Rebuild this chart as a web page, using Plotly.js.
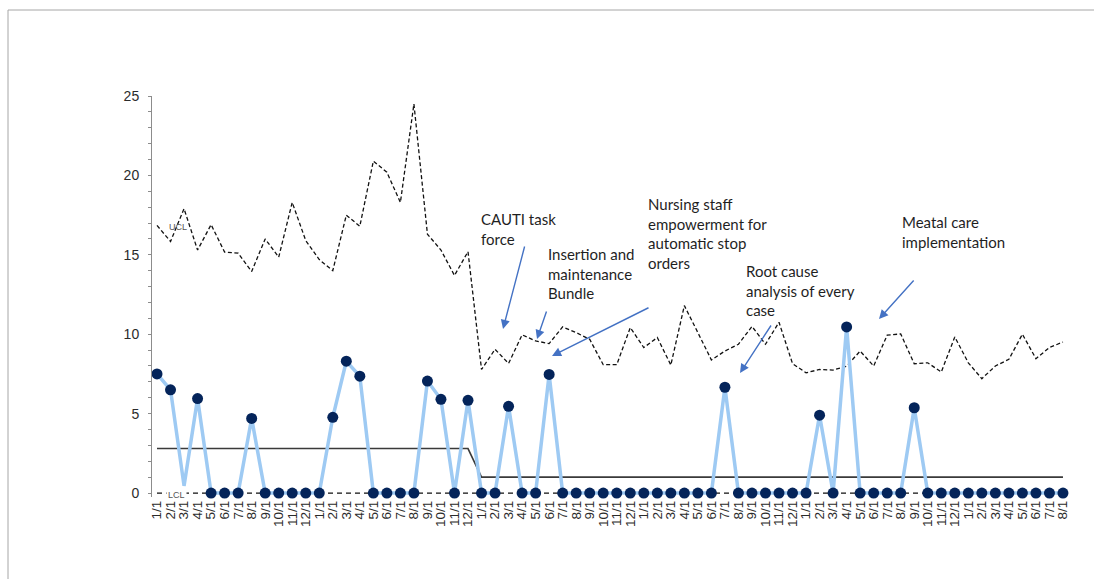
<!DOCTYPE html>
<html>
<head>
<meta charset="utf-8">
<script src="https://cdn.plot.ly/plotly-3.0.1.min.js"></script>
<style>html,body{margin:0;padding:0;background:#fff;}#chart{width:1094px;height:579px;}</style>
</head>
<body>
<div id="chart"></div>
<script>
// ---- data ----
const monthLabels = [
  "1/1","2/1","3/1","4/1","5/1","6/1","7/1","8/1","9/1","10/1","11/1","12/1",
  "1/1","2/1","3/1","4/1","5/1","6/1","7/1","8/1","9/1","10/1","11/1","12/1",
  "1/1","2/1","3/1","4/1","5/1","6/1","7/1","8/1","9/1","10/1","11/1","12/1",
  "1/1","2/1","3/1","4/1","5/1","6/1","7/1","8/1","9/1","10/1","11/1","12/1",
  "1/1","2/1","3/1","4/1","5/1","6/1","7/1","8/1","9/1","10/1","11/1","12/1",
  "1/1","2/1","3/1","4/1","5/1","6/1","7/1","8/1"
];
const rateValues = [
  7.5, 6.5, 0.45, 5.95, 0, 0, 0, 4.7, 0, 0, 0, 0,
  0, 4.77, 8.3, 7.36, 0, 0, 0, 0, 7.05, 5.9, 0, 5.84,
  0, 0, 5.46, 0, 0, 7.47, 0, 0, 0, 0, 0, 0,
  0, 0, 0, 0, 0, 0, 6.66, 0, 0, 0, 0, 0,
  0, 4.9, 0, 10.46, 0, 0, 0, 0, 5.37, 0, 0, 0,
  0, 0, 0, 0, 0, 0, 0, 0
];
const uclValues = [
  16.85, 15.84, 17.9, 15.3, 16.9, 15.17, 15.1, 13.95, 16.0, 14.85, 18.3, 15.9,
  14.7, 14.0, 17.5, 16.8, 20.9, 20.2, 18.3, 24.5, 16.3, 15.3, 13.7, 15.2,
  7.78, 9.05, 8.16, 9.96, 9.58, 9.41, 10.46, 10.1, 9.68, 8.08, 8.08, 10.42,
  9.16, 9.79, 8.06, 11.8, 10.1, 8.38, 8.94, 9.37, 10.49, 9.37, 10.75, 8.15,
  7.57, 7.78, 7.74, 7.99, 8.94, 8.0, 9.94, 10.02, 8.14, 8.2, 7.62, 9.83,
  8.2, 7.2, 8.0, 8.42, 10.0, 8.46, 9.16, 9.51
];
const centerValues = [
  2.8, 2.8, 2.8, 2.8, 2.8, 2.8, 2.8, 2.8, 2.8, 2.8, 2.8, 2.8,
  2.8, 2.8, 2.8, 2.8, 2.8, 2.8, 2.8, 2.8, 2.8, 2.8, 2.8, 2.8,
  1, 1, 1, 1, 1, 1, 1, 1, 1, 1, 1, 1,
  1, 1, 1, 1, 1, 1, 1, 1, 1, 1, 1, 1,
  1, 1, 1, 1, 1, 1, 1, 1, 1, 1, 1, 1,
  1, 1, 1, 1, 1, 1, 1, 1
];
const lclValues = [
  0,0,0,0,0,0,0,0,0,0,0,0,
  0,0,0,0,0,0,0,0,0,0,0,0,
  0,0,0,0,0,0,0,0,0,0,0,0,
  0,0,0,0,0,0,0,0,0,0,0,0,
  0,0,0,0,0,0,0,0,0,0,0,0,
  0,0,0,0,0,0,0,0
];
const interventions = [
  "CAUTI task<br>force",
  "Insertion and<br>maintenance<br>Bundle",
  "Nursing staff<br>empowerment for<br>automatic stop<br>orders",
  "Root cause<br>analysis of every<br>case",
  "Meatal care<br>implementation"
];

// ---- layout geometry ----
const W = 1094, H = 579;
const M = {l: 152, r: 24, t: 96, b: 82};
const xr = [-0.37, 67.52], yr = [-0.25, 25];
const pw = W - M.l - M.r, ph = H - M.t - M.b;
const px2x = px => xr[0] + (px - M.l) / pw * (xr[1] - xr[0]);
const py2y = py => yr[1] - (py - M.t) / ph * (yr[1] - yr[0]);
const px2p = px => (px - M.l) / pw;
const py2p = py => (H - M.b - py) / ph;

const idx = monthLabels.map((_, i) => i);

const traces = [
  {x: idx, y: uclValues, type: 'scatter', mode: 'lines', hoverinfo: 'skip',
   line: {color: '#111', width: 1.3, dash: '4px,2.5px'}, cliponaxis: false},
  {x: idx, y: lclValues, type: 'scatter', mode: 'lines', hoverinfo: 'skip',
   line: {color: '#111', width: 1.3, dash: '5px,4px'}, cliponaxis: false},
  {x: idx, y: centerValues, type: 'scatter', mode: 'lines', hoverinfo: 'skip',
   line: {color: '#3a3a3a', width: 1.6}, cliponaxis: false},
  {x: idx, y: rateValues, type: 'scatter', mode: 'lines+markers', cliponaxis: false,
   line: {color: '#9ECAF3', width: 3.5},
   marker: {color: '#04245A', opacity: 1, line: {width: 0},
            size: rateValues.map((v, i) => i === 2 ? 0 : 11)}}
];

const textFont = {family: 'Lato, "Open Sans", sans-serif', size: 15, color: '#1f1f1f'};
const texts = [
  {px: 480, py: 219.3},
  {px: 547, py: 254.3},
  {px: 647, py: 204.3},
  {px: 745, py: 271},
  {px: 901, py: 222.3}
];
const annotations = interventions.map((t, i) => ({
  text: t, xref: 'x', yref: 'y', x: px2x(texts[i].px), y: py2y(texts[i].py - 10.5),
  xanchor: 'left', yanchor: 'top', align: 'left', showarrow: false,
  font: textFont, borderpad: 0
}));

const arrows = [
  [525, 245, 503, 329],
  [547, 310, 537, 339],
  [650, 307, 552, 356],
  [772, 324, 740, 373],
  [915, 279, 879, 319]
];
arrows.forEach(a => annotations.push({
  text: '', xref: 'x', yref: 'y', x: px2x(a[2]), y: py2y(a[3]),
  ax: a[0] - a[2], ay: a[1] - a[3], showarrow: true,
  arrowhead: 2, arrowsize: 1.3, arrowwidth: 1.4, arrowcolor: '#4472C4', standoff: 0
}));

annotations.push({
  text: 'UCL', xref: 'x', yref: 'y', x: px2x(178), y: py2y(227), showarrow: false,
  font: {family: '"Liberation Sans", Arial, sans-serif', size: 9, color: '#555'}
});
annotations.push({
  text: 'LCL', xref: 'x', yref: 'y', x: px2x(176), y: py2y(494.5), showarrow: false,
  bgcolor: '#fff', borderpad: 1,
  font: {family: '"Liberation Sans", Arial, sans-serif', size: 9, color: '#555'}
});

const layout = {
  width: W, height: H,
  margin: M,
  paper_bgcolor: '#fff', plot_bgcolor: '#fff',
  showlegend: false,
  xaxis: {
    range: xr, showgrid: false, zeroline: false, showline: false, ticks: '',
    tickmode: 'array', tickvals: idx, ticktext: monthLabels, tickangle: -90,
    tickfont: {family: '"Liberation Sans", Arial, sans-serif', size: 13.5, color: '#2b2b2b'}
  },
  yaxis: {
    range: yr, showgrid: false, zeroline: false, showline: true, linecolor: '#8c8c8c', linewidth: 1,
    tickmode: 'linear', tick0: 0, dtick: 5, ticks: 'outside', ticklen: 3, tickcolor: '#8c8c8c',
    minor: {dtick: 1, tick0: 0, ticks: 'outside', ticklen: 3, tickcolor: '#8c8c8c'},
    ticklabelstandoff: 6,
    tickfont: {family: '"Liberation Sans", Arial, sans-serif', size: 14, color: '#2b2b2b'}
  },
  annotations: annotations,
  shapes: [
    {type: 'line', xref: 'paper', yref: 'paper', x0: px2p(8), x1: px2p(1100), y0: py2p(10), y1: py2p(10),
     line: {color: '#a6a6a6', width: 1}},
    {type: 'line', xref: 'paper', yref: 'paper', x0: px2p(8), x1: px2p(8), y0: py2p(10), y1: py2p(590),
     line: {color: '#a6a6a6', width: 1}}
  ]
};

Plotly.newPlot('chart', traces, layout, {displayModeBar: false, staticPlot: true});
</script>
</body>
</html>
